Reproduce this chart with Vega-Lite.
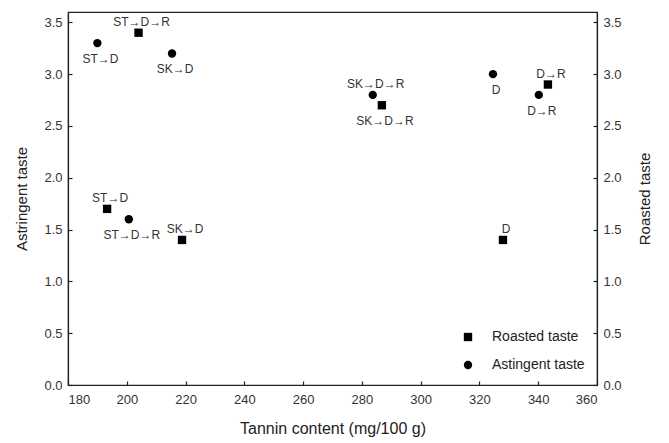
{
  "$schema": "https://vega.github.io/schema/vega-lite/v6.json",
  "width": 529,
  "height": 373,
  "autosize": {"type": "none"},
  "padding": {"left": 68, "top": 12, "right": 72, "bottom": 58},
  "background": "white",
  "config": {
    "font": "Liberation Sans",
    "view": {"stroke": "#222", "strokeWidth": 1.2},
    "axis": {
      "grid": false,
      "domainColor": "#222",
      "domainWidth": 1.2,
      "tickColor": "#222",
      "tickWidth": 1.2,
      "tickSize": -4,
      "labelFont": "Liberation Sans",
      "labelFontSize": 13,
      "labelColor": "#333",
      "titleFont": "Liberation Sans",
      "titleFontWeight": "normal",
      "titleColor": "#222",
      "titleFontSize": 15
    }
  },
  "data": {
    "values": [
      {"tannin": 204.0, "score": 3.4, "taste": "Roasted taste", "treatment": "ST→D→R"},
      {"tannin": 193.3, "score": 1.7, "taste": "Roasted taste", "treatment": "ST→D"},
      {"tannin": 218.8, "score": 1.4, "taste": "Roasted taste", "treatment": "SK→D"},
      {"tannin": 286.8, "score": 2.7, "taste": "Roasted taste", "treatment": "SK→D→R"},
      {"tannin": 343.3, "score": 2.9, "taste": "Roasted taste", "treatment": "D→R"},
      {"tannin": 328.0, "score": 1.4, "taste": "Roasted taste", "treatment": "D"},
      {"tannin": 190.0, "score": 3.3, "taste": "Astingent taste", "treatment": "ST→D"},
      {"tannin": 215.4, "score": 3.2, "taste": "Astingent taste", "treatment": "SK→D"},
      {"tannin": 200.7, "score": 1.6, "taste": "Astingent taste", "treatment": "ST→D→R"},
      {"tannin": 283.7, "score": 2.8, "taste": "Astingent taste", "treatment": "SK→D→R"},
      {"tannin": 324.6, "score": 3.0, "taste": "Astingent taste", "treatment": "D"},
      {"tannin": 340.2, "score": 2.8, "taste": "Astingent taste", "treatment": "D→R"}
    ]
  },
  "layer": [
    {
      "mark": {"type": "point", "filled": true, "color": "black", "opacity": 1, "size": 70},
      "encoding": {
        "x": {
          "field": "tannin", "type": "quantitative",
          "scale": {"domain": [180, 360], "nice": false, "zero": false},
          "axis": {"values": [180, 200, 220, 240, 260, 280, 300, 320, 340, 360], "title": "Tannin content (mg/100 g)", "labelPadding": 12, "titlePadding": 14, "titleFontSize": 16}
        },
        "y": {
          "field": "score", "type": "quantitative",
          "scale": {"domain": [0, 3.6], "nice": false},
          "axis": {"orient": "left", "values": [0, 0.5, 1, 1.5, 2, 2.5, 3, 3.5], "format": ".1f", "title": "Astringent taste", "labelPadding": 10, "titlePadding": 14}
        },
        "shape": {
          "field": "taste", "type": "nominal",
          "scale": {"domain": ["Roasted taste", "Astingent taste"], "range": ["square", "circle"]},
          "legend": {
            "title": null, "orient": "none", "legendX": 393, "legendY": 318,
            "labelFontSize": 14, "labelColor": "#222", "labelFont": "Liberation Sans",
            "symbolSize": 70, "symbolFillColor": "black", "symbolStrokeColor": "black",
            "labelOffset": 17, "rowPadding": 12, "padding": 0
          }
        }
      }
    },
    {
      "transform": [{"filter": "(datum.taste == 'Roasted taste' && datum.treatment != 'SK→D→R') || (datum.taste == 'Astingent taste' && datum.treatment == 'SK→D→R')"}],
      "mark": {"type": "text", "fontSize": 12, "color": "#333", "baseline": "middle", "align": "center", "dy": -11, "dx": 3},
      "encoding": {
        "x": {"field": "tannin", "type": "quantitative"},
        "y": {
          "field": "score", "type": "quantitative",
          "scale": {"domain": [0, 3.6], "nice": false},
          "axis": {"orient": "right", "values": [0, 0.5, 1, 1.5, 2, 2.5, 3, 3.5], "format": ".1f", "title": "Roasted taste", "labelPadding": 10, "titlePadding": 16, "titleAngle": 270, "titleBaseline": "top"}
        },
        "text": {"field": "treatment", "type": "nominal"}
      }
    },
    {
      "transform": [{"filter": "!((datum.taste == 'Roasted taste' && datum.treatment != 'SK→D→R') || (datum.taste == 'Astingent taste' && datum.treatment == 'SK→D→R'))"}],
      "mark": {"type": "text", "fontSize": 12, "color": "#333", "baseline": "middle", "align": "center", "dy": 16, "dx": 3},
      "encoding": {
        "x": {"field": "tannin", "type": "quantitative"},
        "y": {
          "field": "score", "type": "quantitative",
          "scale": {"domain": [0, 3.6], "nice": false},
          "axis": null
        },
        "text": {"field": "treatment", "type": "nominal"}
      }
    }
  ],
  "resolve": {"scale": {"y": "independent"}}
}
